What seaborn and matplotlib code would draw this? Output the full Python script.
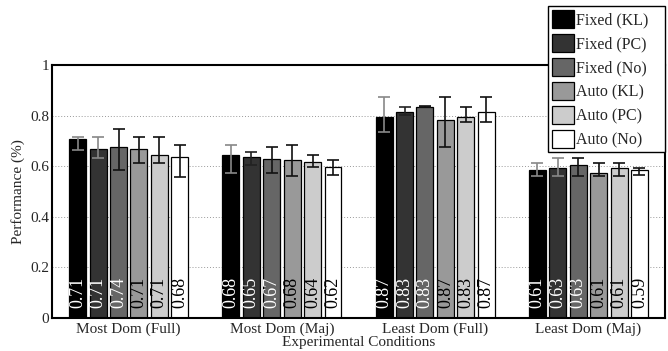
import numpy as np
import pandas as pd
import matplotlib
matplotlib.use("Agg")
import matplotlib.pyplot as plt
import seaborn as sns
from matplotlib.patches import Patch

conditions = ["Most Dom (Full)", "Most Dom (Maj)", "Least Dom (Full)", "Least Dom (Maj)"]
methods = ["Fixed (KL)", "Fixed (PC)", "Fixed (No)", "Auto (KL)", "Auto (PC)", "Auto (No)"]
colors = ["#000000", "#333333", "#666666", "#999999", "#cccccc", "#ffffff"]

# bar heights per method (rows) across conditions (columns)
fixed_kl = [0.706, 0.646, 0.795, 0.586]
fixed_pc = [0.667, 0.635, 0.816, 0.594]
fixed_no = [0.676, 0.627, 0.835, 0.604]
auto_kl = [0.667, 0.626, 0.784, 0.574]
auto_pc = [0.646, 0.615, 0.795, 0.594]
auto_no = [0.635, 0.595, 0.815, 0.585]

# error bar top / bottom values
err_top = [
    [0.714, 0.684, 0.874, 0.614],
    [0.714, 0.656, 0.835, 0.634],
    [0.745, 0.675, 0.836, 0.634],
    [0.714, 0.684, 0.874, 0.614],
    [0.714, 0.644, 0.835, 0.614],
    [0.684, 0.626, 0.874, 0.594],
]
err_bot = [
    [0.664, 0.574, 0.735, 0.563],
    [0.634, 0.603, 0.804, 0.563],
    [0.583, 0.574, 0.834, 0.563],
    [0.614, 0.563, 0.675, 0.563],
    [0.614, 0.595, 0.774, 0.563],
    [0.556, 0.565, 0.774, 0.565],
]

# labels printed in the bars
bar_labels = [
    ["0.71", "0.68", "0.87", "0.61"],
    ["0.71", "0.65", "0.83", "0.63"],
    ["0.74", "0.67", "0.83", "0.63"],
    ["0.71", "0.68", "0.87", "0.61"],
    ["0.71", "0.64", "0.83", "0.61"],
    ["0.68", "0.62", "0.87", "0.59"],
]

heights = [fixed_kl, fixed_pc, fixed_no, auto_kl, auto_pc, auto_no]
rows = []
for m, hs in zip(methods, heights):
    for c, h in zip(conditions, hs):
        rows.append({"cond": c, "method": m, "perf": h})
df = pd.DataFrame(rows)

sns.set_style("white")
plt.rcParams["font.family"] = ["Liberation Serif", "DejaVu Serif"]

fig = plt.figure(figsize=(6.68, 3.51), dpi=100)
ax = fig.add_axes([0.078, 0.094, 0.9175, 0.721])

sns.barplot(data=df, x="cond", y="perf", hue="method", order=conditions,
            hue_order=methods, palette=dict(zip(methods, colors)),
            edgecolor="black", linewidth=0.9, gap=0.17, errorbar=None,
            legend=False, ax=ax, zorder=2)

err_colors = [
    ["#888888", "#888888", "#888888", "#888888"],
    ["#888888", "#222222", "#222222", "#888888"],
    ["#111111"] * 4,
    ["#111111"] * 4,
    ["#111111"] * 4,
    ["#111111"] * 4,
]
text_colors = ["white", "white", "white", "black", "black", "black"]

bar_conts = list(ax.containers)
for i, cont in enumerate(bar_conts):
    for j, p in enumerate(cont.patches):
        xc = p.get_x() + p.get_width() / 2
        h = p.get_height()
        lo = h - err_bot[i][j]
        hi = err_top[i][j] - h
        ax.errorbar(xc, h, yerr=[[max(lo, 0)], [max(hi, 0)]], fmt="none",
                    ecolor=err_colors[i][j], elinewidth=1.2, capsize=4,
                    capthick=1.2, zorder=3)
        ax.text(xc, 0.04, bar_labels[i][j], rotation=90, ha="center",
                va="bottom", color=text_colors[i], fontsize=13, zorder=4)

ax.set_ylim(0, 1)
ax.set_xlim(-0.5, 3.5)
ax.set_yticks([0, 0.2, 0.4, 0.6, 0.8, 1])
ax.set_yticklabels(["0", "0.2", "0.4", "0.6", "0.8", "1"])
ax.tick_params(axis="both", length=0, labelsize=11, pad=2)
ax.tick_params(axis="x", pad=3)
ax.yaxis.grid(True, linestyle=(0, (1, 2)), color="#999999", linewidth=0.7, zorder=0)
ax.set_axisbelow(True)
for s in ax.spines.values():
    s.set_visible(True)
    s.set_color("black")
    s.set_linewidth(1.5)

ax.set_xlabel("Experimental Conditions", fontsize=11, labelpad=0)
ax.set_ylabel("Performance (%)", fontsize=11, labelpad=4)

handles = [Patch(facecolor=c, edgecolor="black", linewidth=0.9) for c in colors]
leg = fig.legend(handles, methods, loc="upper left",
                 bbox_to_anchor=(548 / 668, 0.0, 117 / 668, 0.983),
                 mode="expand", fontsize=11.5,
                 handlelength=1.4, handleheight=1.4, handletextpad=0.1,
                 labelspacing=0.34, borderpad=0.25, borderaxespad=0,
                 frameon=True, fancybox=False, framealpha=1)
leg.get_frame().set_edgecolor("black")
leg.get_frame().set_linewidth(1.0)

fig.savefig("out.png", dpi=100)
